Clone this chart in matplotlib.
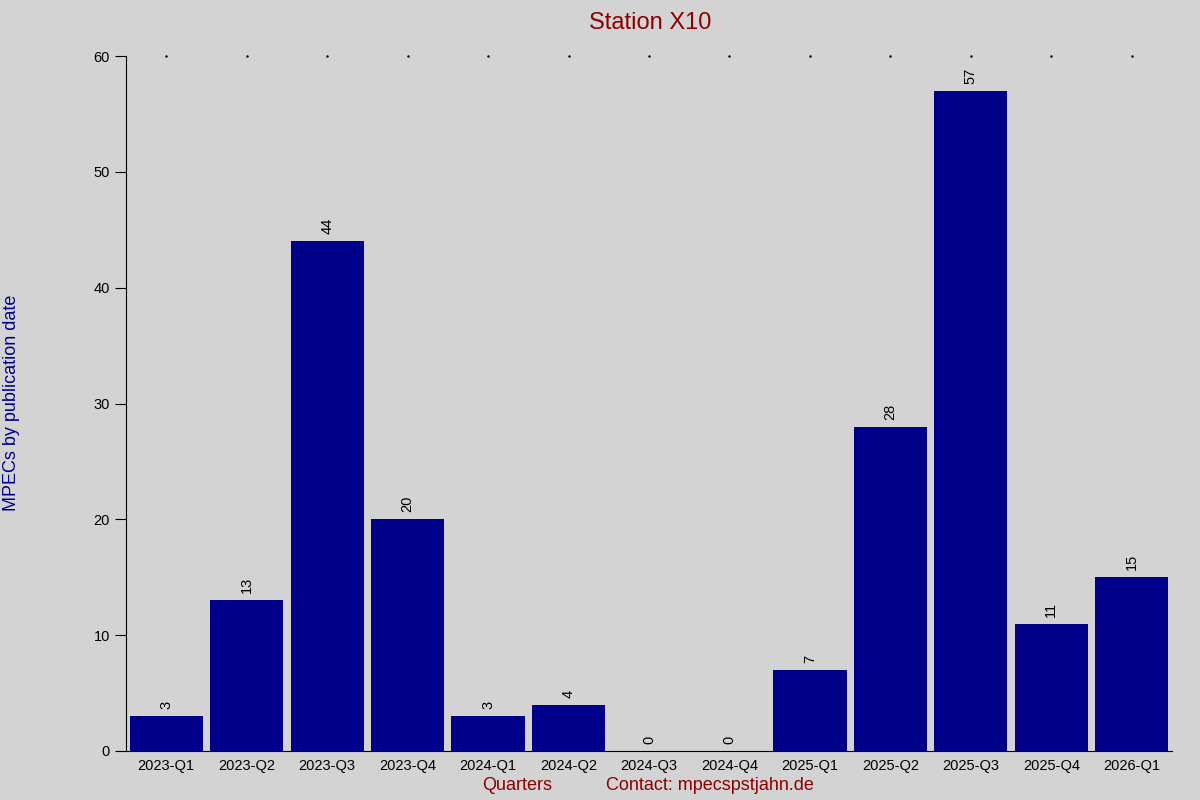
import matplotlib
matplotlib.use("Agg")
import matplotlib.pyplot as plt

quarters = ["2023-Q1","2023-Q2","2023-Q3","2023-Q4","2024-Q1","2024-Q2","2024-Q3","2024-Q4",
            "2025-Q1","2025-Q2","2025-Q3","2025-Q4","2026-Q1"]
counts = [3,13,44,20,3,4,0,0,7,28,57,11,15]
yticks = [0,10,20,30,40,50,60]

plt.rcParams['font.family'] = ['Liberation Sans', 'DejaVu Sans']
fig = plt.figure(figsize=(12,8), dpi=100, facecolor='#d3d3d3')
ax = fig.add_axes([126/1200, 1-751/800, (1172-126)/1200, (751-56)/800])
ax.set_facecolor('#d3d3d3')
x = list(range(len(quarters)))
ax.bar(x, counts, width=0.91, color='#00008b')
for xi, c in zip(x, counts):
    ax.annotate(str(c), (xi, c), xytext=(0, 5), textcoords='offset points',
                rotation=90, ha='center', va='bottom', fontsize=10.5)
ax.set_xlim(-0.5, len(quarters)-0.5)
ax.set_ylim(0, 60)
ax.set_yticks(yticks)
ax.set_xticks(x)
ax.set_xticklabels(quarters, fontsize=10.5)
ax.tick_params(axis='y', labelsize=10.5, direction='out', length=8)
ax.tick_params(axis='x', length=0, pad=6)
for s in ['top','right']:
    ax.spines[s].set_visible(False)
for xi in x:
    ax.plot(xi, 60, marker='.', markersize=1.5, color='black', clip_on=False)
fig.text(0.5415, 1-12/800, "Station X10", ha='center', va='top', fontsize=17, color='#8b0000')
fig.text(517/1200, 1-786/800, "Quarters", ha='center', va='center', fontsize=13, color='#8b0000')
fig.text(710/1200, 1-786/800, "Contact: mpecs\u0307pstjahn.de".replace("s\u0307p","sp"), ha='center', va='center', fontsize=13, color='#8b0000')
fig.text(12/1200, 1-403/800, "MPECs by publication date", rotation=90, ha='center', va='center', fontsize=13, color='#00008b')
fig.savefig("out.png", dpi=100, facecolor=fig.get_facecolor())
